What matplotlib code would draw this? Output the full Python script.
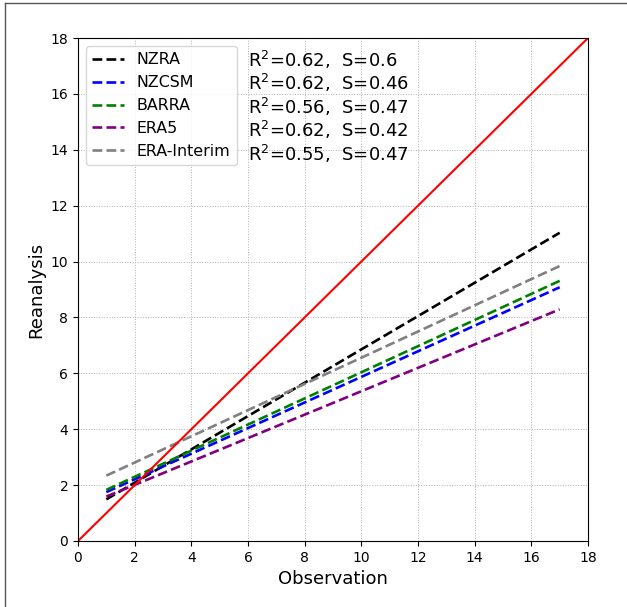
import matplotlib
matplotlib.use("Agg")
import matplotlib.pyplot as plt
from matplotlib.lines import Line2D

names = ["NZRA", "NZCSM", "BARRA", "ERA5", "ERA-Interim"]
colors = ["black", "blue", "green", "purple", "grey"]
x_ends = [1, 17]
y_start = [1.49, 1.75, 1.83, 1.59, 2.34]
y_end = [11.03, 9.08, 9.31, 8.29, 9.84]
r2 = ["0.62", "0.62", "0.56", "0.62", "0.55"]
slopes = ["0.6", "0.46", "0.47", "0.42", "0.47"]
one_to_one = [0, 18]

fig = plt.figure(figsize=(6.27, 6.07), dpi=100)
ax = fig.add_axes([78/627, 66/607, 510/627, 503/607])

for n, c, y0, y1 in zip(names, colors, y_start, y_end):
    ax.plot(x_ends, [y0, y1], linestyle="--", color=c, linewidth=1.9, label=n)
ax.plot(one_to_one, one_to_one, color="red", linewidth=1.5)

ax.set_xlim(0, 18)
ax.set_ylim(0, 18)
ax.set_xticks(range(0, 19, 2))
ax.set_yticks(range(0, 19, 2))
ax.tick_params(labelsize=10)
ax.grid(True, linestyle=":", color="#b0b0b0", linewidth=0.7)
ax.set_xlabel("Observation", fontsize=13)
ax.set_ylabel("Reanalysis", fontsize=13)

ax.legend(loc="upper left", fontsize=11.4, handlelength=2.0)

ys = [17.23, 16.39, 15.55, 14.71, 13.85]
for y, r, s in zip(ys, r2, slopes):
    ax.text(6.0, y, r"R$^2$=" + r + ",  S=" + s, fontsize=13, va="center", ha="left")

fig.add_artist(Line2D([4.5/627, 4.5/627], [0, 1 - 2.5/607], transform=fig.transFigure, color="#555555", linewidth=1))
fig.add_artist(Line2D([4.5/627, 1], [1 - 2.5/607, 1 - 2.5/607], transform=fig.transFigure, color="#555555", linewidth=1))

fig.savefig("out.png", dpi=100)
